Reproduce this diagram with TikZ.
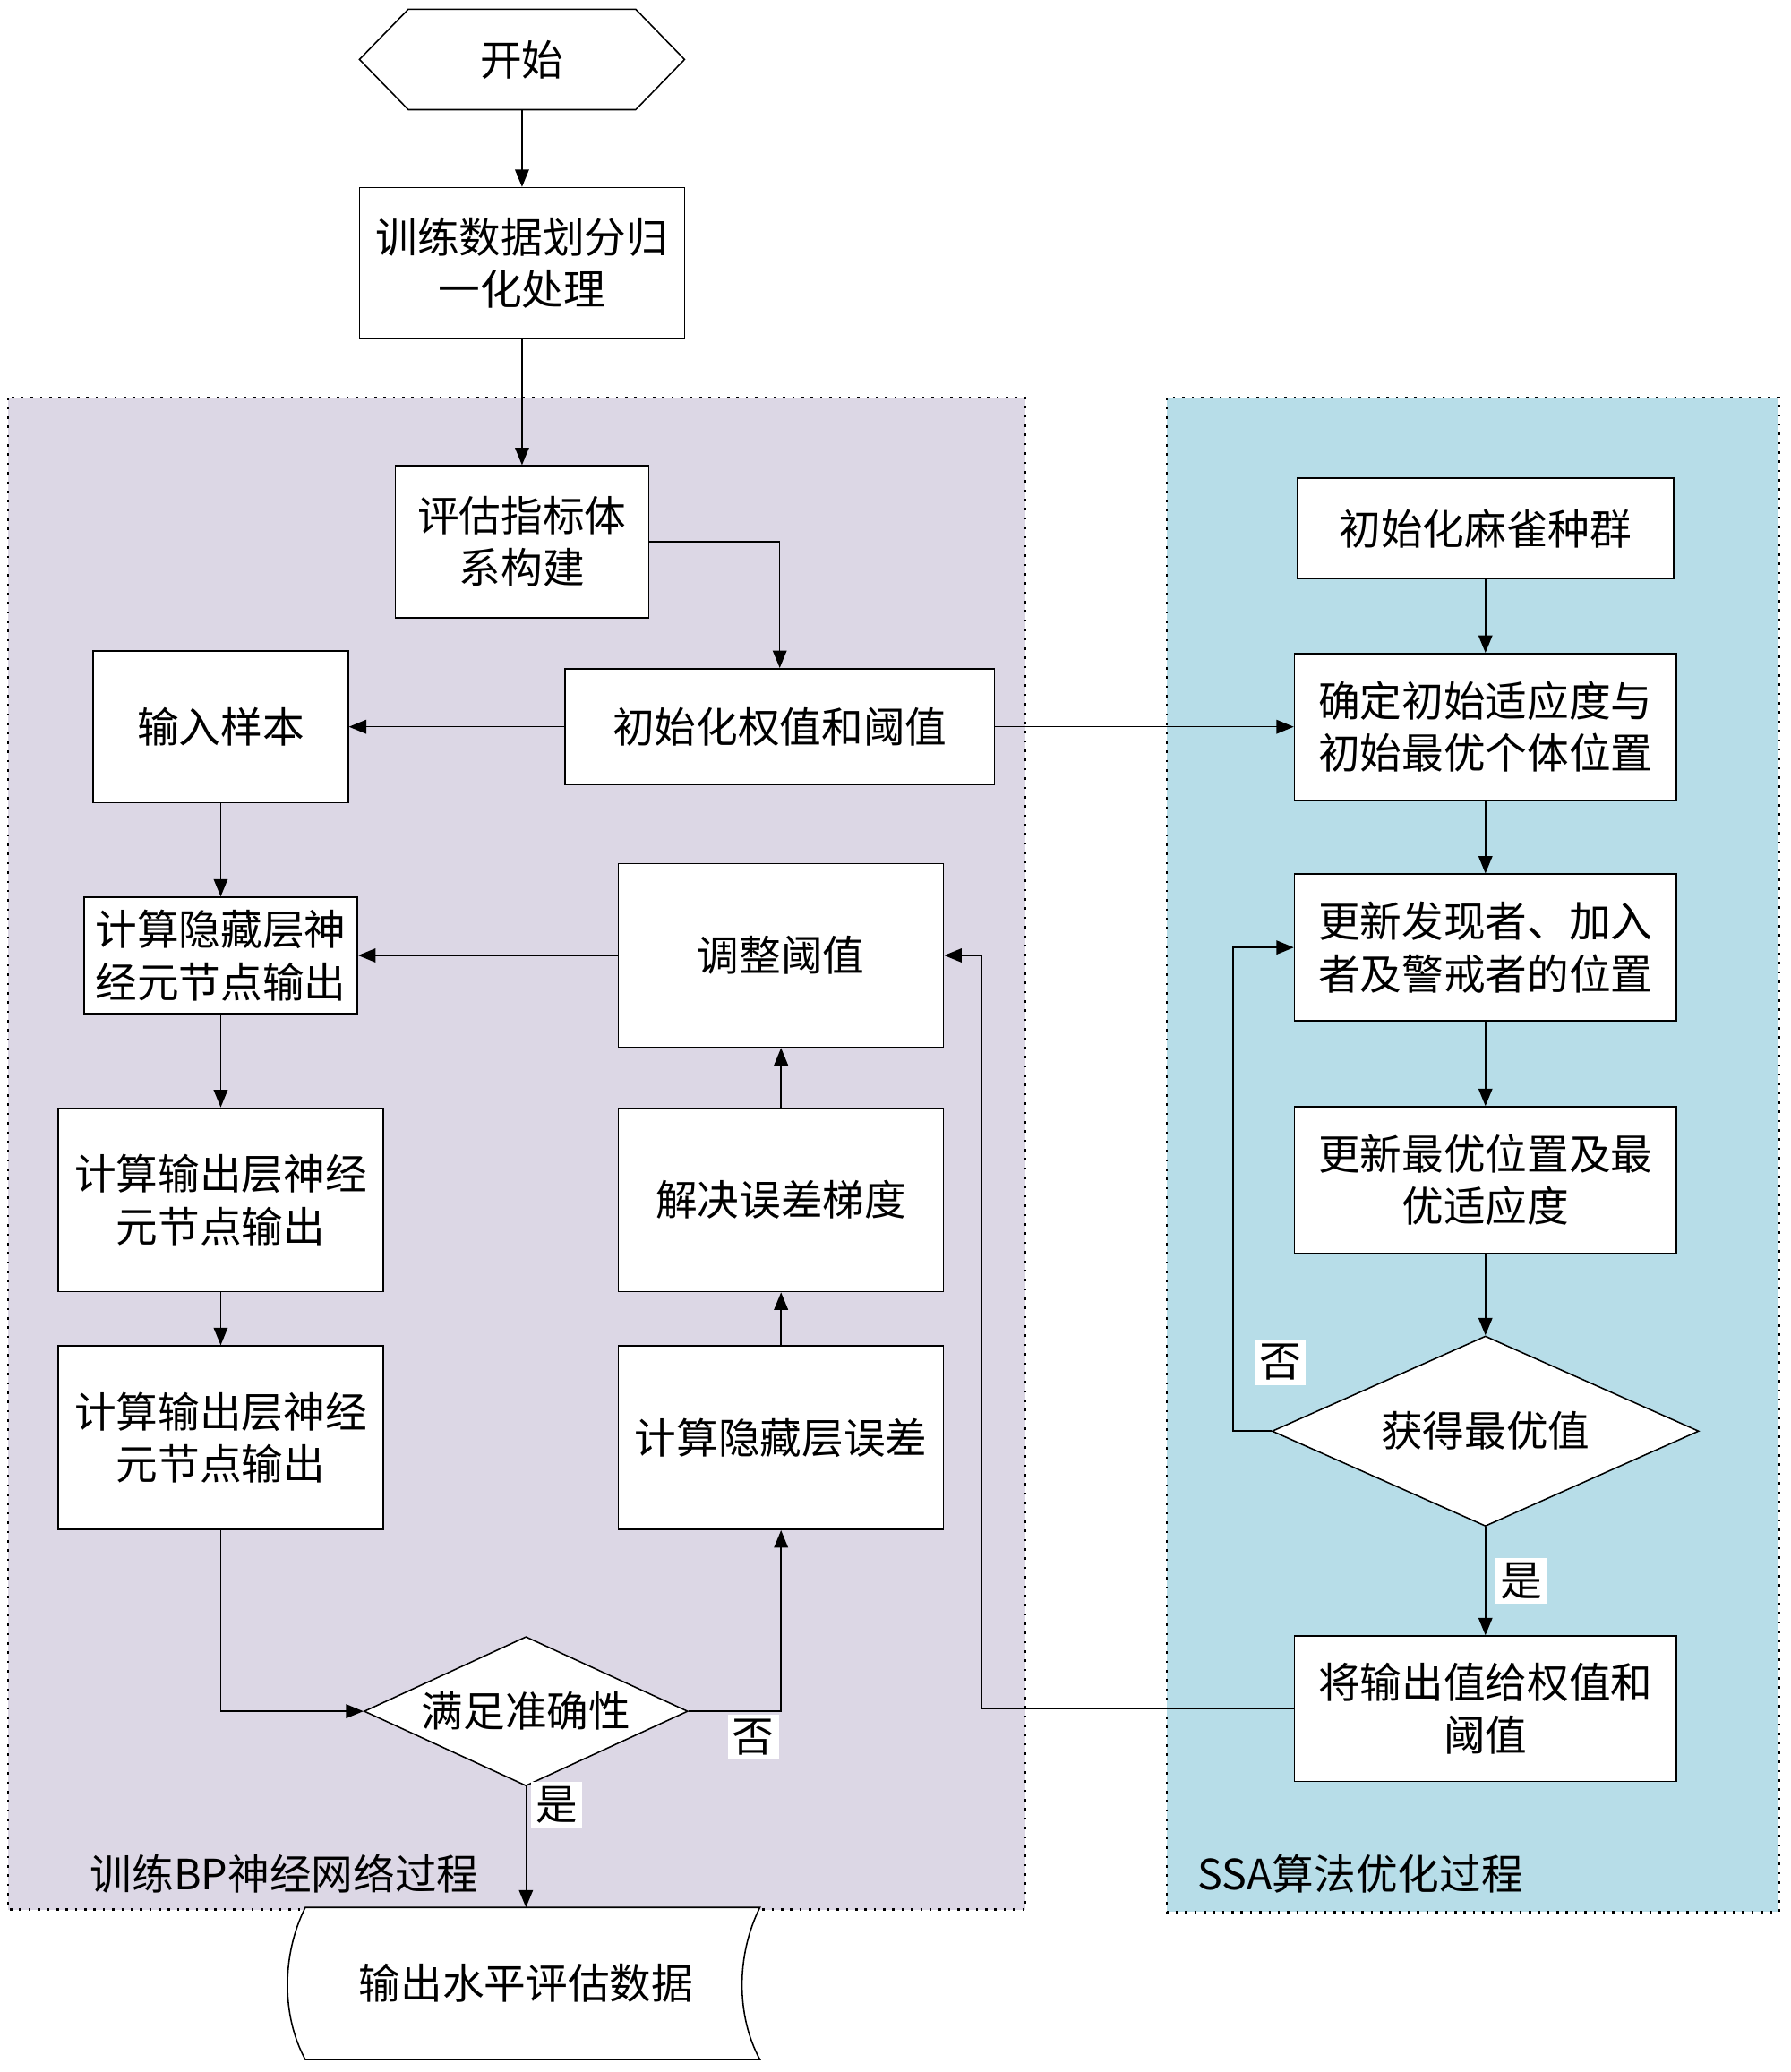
\documentclass[tikz,border=0pt]{standalone}
\usepackage{fontspec}
\setmainfont{Noto Sans CJK SC}
\usetikzlibrary{arrows.meta,shapes.geometric}
\definecolor{bppurple}{RGB}{220,215,229}
\definecolor{ssablue}{RGB}{183,221,232}

\begin{document}
\begin{tikzpicture}[x=0.02cm,y=-0.02cm,>={Triangle[length=7.5pt,width=6pt]},
  line width=0.6pt,font=\fontsize{18}{22.5}\selectfont,
  box/.style={draw,fill=white,align=center,inner sep=0pt},
  cond/.style={draw,fill=white,diamond,aspect=2.2,inner sep=0pt},
  region/.style={dash pattern=on 1pt off 3pt,line width=0.9pt},
  tag/.style={fill=white,inner sep=2pt}]
  \useasboundingbox (0,0) rectangle (1355,1568);

  % the two process areas
  \draw[region,fill=bppurple] (6,301) rectangle (776,1445);
  \draw[region,fill=ssablue] (883,301) rectangle (1346,1447);
  \node[anchor=west] (bplabel) at (62,1418) {训练BP神经网络过程};
  \node[anchor=west] (ssalabel) at (900,1418) {SSA算法优化过程};

  \node[minimum width=4.9cm,minimum height=1.5cm] (start) at (395,45) {开始};
  \draw ([xshift=0.74cm]start.north west) -- ([xshift=-0.74cm]start.north east)
  -- (start.east) -- ([xshift=-0.74cm]start.south east)
  -- ([xshift=0.74cm]start.south west) -- (start.west) -- cycle;
  \node[box,minimum width=4.92cm,minimum height=2.28cm] (prep) at (395,199) {训练数据划分归\\一化处理};

  % BP side
  \node[box,minimum width=3.84cm,minimum height=2.3cm] (eval) at (395,410) {评估指标体\\系构建};
  \node[box,minimum width=6.5cm,minimum height=1.76cm] (init) at (590,550) {初始化权值和阈值};
  \node[box,minimum width=3.86cm,minimum height=2.3cm] (input) at (167,550) {输入样本};
  \node[box,minimum width=4.14cm,minimum height=1.76cm] (hid) at (167,723) {计算隐藏层神\\经元节点输出};
  \node[box,minimum width=4.92cm,minimum height=2.78cm] (adj) at (591,723) {调整阈值};
  \node[box,minimum width=4.92cm,minimum height=2.78cm] (out1) at (167,908) {计算输出层神经\\元节点输出};
  \node[box,minimum width=4.92cm,minimum height=2.78cm] (grad) at (591,908) {解决误差梯度};
  \node[box,minimum width=4.92cm,minimum height=2.78cm] (out2) at (167,1088) {计算输出层神经\\元节点输出};
  \node[box,minimum width=4.92cm,minimum height=2.78cm] (herr) at (591,1088) {计算隐藏层误差};
  \node[cond,minimum width=4.9cm,minimum height=2.26cm] (acc) at (398,1295) {满足准确性};

  % SSA side
  \node[box,minimum width=5.7cm,minimum height=1.52cm] (sparrow) at (1124,400) {初始化麻雀种群};
  \node[box,minimum width=5.78cm,minimum height=2.22cm] (fit) at (1124,550) {确定初始适应度与\\初始最优个体位置};
  \node[box,minimum width=5.78cm,minimum height=2.22cm] (pos) at (1124,717) {更新发现者、加入\\者及警戒者的位置};
  \node[box,minimum width=5.78cm,minimum height=2.22cm] (best) at (1124,893) {更新最优位置及最\\优适应度};
  \node[cond,minimum width=6.46cm,minimum height=2.88cm] (opt) at (1124,1083) {获得最优值};
  \node[box,minimum width=5.78cm,minimum height=2.2cm] (give) at (1124,1293) {将输出值给权值和\\阈值};

  \node[minimum width=6.86cm,minimum height=2.28cm] (result) at (403,1501) {};
  \draw[fill=white] (result.north west) -- (result.north east)
  .. controls +(-18,36) and +(-18,-33) .. (result.south east) -- (result.south west)
  .. controls +(-18,-33) and +(-18,36) .. (result.north west) -- cycle;
  \node (resulttext) at (398,1501) {输出水平评估数据};

  \draw[->] (start) -- (prep);
  \draw[->] (prep) -- (eval);
  \draw[->] (eval.east) -| (init.north);
  \draw[->] (init) -- (input);
  \draw[->] (input) -- (hid);
  \draw[->] (adj) -- (hid);
  \draw[->] (hid) -- (out1);
  \draw[->] (out1) -- (out2);
  \draw[->] (out2.south) |- (acc.west);
  \draw[->] (acc.east) -| node[tag,pos=0.35,below=1pt] {否} (herr.south);
  \draw[->] (herr) -- (grad);
  \draw[->] (grad) -- (adj);
  \draw[->] (acc.south) -- node[tag,pos=0.15,right=2pt] {是} (acc.south |- result.north);

  \draw[->] (init) -- (fit);
  \draw[->] (sparrow) -- (fit);
  \draw[->] (fit) -- (pos);
  \draw[->] (pos) -- (best);
  \draw[->] (best) -- (opt);
  \draw[->] (opt.west) -- ++(-29,0) |- node[tag,pos=0.071,right=9pt] {否} (pos.west);
  \draw[->] (opt) -- node[tag,right=4pt] {是} (give);
  \draw[->] (give.west) -- ++(-236,0) |- (adj.east);

\end{tikzpicture}
\end{document}
